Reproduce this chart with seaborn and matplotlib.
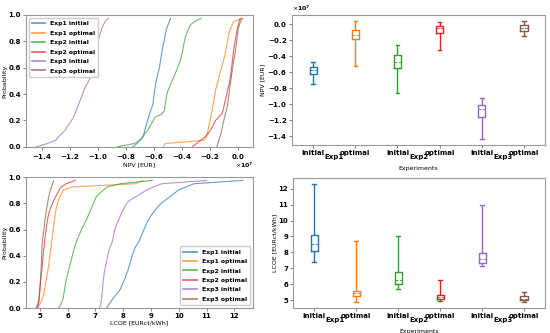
import numpy as np
import pandas as pd
import matplotlib
matplotlib.use("Agg")
import matplotlib.pyplot as plt
from matplotlib.ticker import MultipleLocator, ScalarFormatter
import seaborn as sns

# series names and colours
names = ["Exp1 initial", "Exp1 optimal", "Exp2 initial", "Exp2 optimal", "Exp3 initial", "Exp3 optimal"]
colors = ["#1f77b4", "#ff7f0e", "#2ca02c", "#d62728", "#9467bd", "#8c564b"]
groups = ["Exp1", "Exp2", "Exp3"]
states = ["initial", "optimal"]

# NPV samples (sorted), in 1e7 EUR
npv_exp1_init = [-0.750, -0.720, -0.700, -0.678, -0.670, -0.664, -0.658, -0.651, -0.645, -0.637,
                 -0.630, -0.622, -0.614, -0.606, -0.603, -0.600, -0.597, -0.594, -0.591, -0.587,
                 -0.582, -0.577, -0.571, -0.566, -0.560, -0.556, -0.552, -0.549, -0.545, -0.541,
                 -0.537, -0.532, -0.527, -0.523, -0.518, -0.513, -0.507, -0.498, -0.489, -0.480]
npv_exp1_opt = [-0.530, -0.520, -0.240, -0.225, -0.218, -0.213, -0.208, -0.203, -0.199, -0.194,
                -0.189, -0.184, -0.180, -0.176, -0.172, -0.168, -0.164, -0.160, -0.154, -0.148,
                -0.142, -0.136, -0.130, -0.123, -0.117, -0.110, -0.104, -0.097, -0.091, -0.086,
                -0.082, -0.078, -0.074, -0.070, -0.066, -0.060, -0.050, -0.040, -0.029, 0.030]
npv_exp2_init = [-0.860, -0.740, -0.697, -0.680, -0.663, -0.645, -0.630, -0.617, -0.603, -0.590,
                 -0.540, -0.525, -0.521, -0.518, -0.514, -0.510, -0.506, -0.499, -0.489, -0.480,
                 -0.470, -0.459, -0.449, -0.439, -0.430, -0.421, -0.412, -0.405, -0.400, -0.395,
                 -0.390, -0.386, -0.381, -0.376, -0.369, -0.359, -0.349, -0.339, -0.310, -0.260]
npv_exp2_opt = [-0.325, -0.295, -0.265, -0.235, -0.212, -0.196, -0.182, -0.170, -0.159, -0.137,
                -0.115, -0.106, -0.100, -0.095, -0.090, -0.084, -0.078, -0.073, -0.068, -0.062,
                -0.058, -0.053, -0.050, -0.047, -0.044, -0.041, -0.039, -0.036, -0.033, -0.030,
                -0.027, -0.024, -0.019, -0.015, -0.011, -0.007, -0.003, 0.004, 0.010, 0.018]
npv_exp3_init = [-1.440, -1.360, -1.300, -1.282, -1.258, -1.234, -1.220, -1.203, -1.188, -1.173,
                 -1.164, -1.155, -1.145, -1.136, -1.127, -1.118, -1.109, -1.100, -1.090, -1.077,
                 -1.065, -1.053, -1.049, -1.046, -1.043, -1.040, -1.035, -1.029, -1.023, -1.018,
                 -1.012, -1.006, -1.000, -0.993, -0.985, -0.977, -0.970, -0.960, -0.948, -0.925]
npv_exp3_opt = [-0.150, -0.143, -0.135, -0.127, -0.121, -0.115, -0.110, -0.105, -0.100, -0.094,
                -0.088, -0.082, -0.077, -0.072, -0.069, -0.066, -0.063, -0.060, -0.057, -0.053,
                -0.050, -0.047, -0.044, -0.040, -0.037, -0.033, -0.029, -0.025, -0.021, -0.017,
                -0.014, -0.011, -0.008, -0.005, -0.002, 0.001, 0.005, 0.012, 0.020, 0.035]

# LCOE samples (sorted), EURct/kWh
lcoe_exp1_init = [7.40, 7.48, 7.56, 7.64, 7.74, 7.84, 7.91, 7.96, 8.01, 8.06,
                  8.10, 8.15, 8.19, 8.22, 8.26, 8.29, 8.32, 8.37, 8.41, 8.46,
                  8.55, 8.60, 8.65, 8.70, 8.75, 8.80, 8.85, 8.91, 8.98, 9.07,
                  9.16, 9.25, 9.37, 9.52, 9.68, 9.83, 9.98, 10.25, 10.55, 12.30]
lcoe_exp1_opt = [4.90, 4.99, 5.05, 5.10, 5.14, 5.16, 5.18, 5.20, 5.22, 5.24,
                 5.26, 5.28, 5.30, 5.32, 5.33, 5.35, 5.36, 5.38, 5.39, 5.41,
                 5.42, 5.44, 5.45, 5.47, 5.48, 5.50, 5.51, 5.53, 5.54, 5.56,
                 5.58, 5.61, 5.64, 5.67, 5.72, 5.78, 5.85, 6.15, 8.45, 8.70]
lcoe_exp2_init = [5.68, 5.75, 5.80, 5.84, 5.86, 5.88, 5.90, 5.92, 5.94, 5.96,
                  5.99, 6.02, 6.05, 6.08, 6.11, 6.14, 6.17, 6.20, 6.23, 6.27,
                  6.31, 6.35, 6.40, 6.45, 6.50, 6.56, 6.62, 6.68, 6.73, 6.78,
                  6.83, 6.88, 6.93, 6.98, 7.03, 7.15, 7.28, 7.42, 7.90, 9.05]
lcoe_exp2_opt = [4.92, 4.95, 4.97, 4.98, 4.99, 5.00, 5.01, 5.02, 5.03, 5.04,
                 5.05, 5.07, 5.08, 5.09, 5.10, 5.11, 5.12, 5.13, 5.14, 5.16,
                 5.17, 5.18, 5.20, 5.21, 5.23, 5.24, 5.26, 5.28, 5.30, 5.33,
                 5.36, 5.41, 5.46, 5.51, 5.57, 5.63, 5.69, 5.77, 5.95, 6.28]
lcoe_exp3_init = [7.15, 7.19, 7.21, 7.23, 7.24, 7.25, 7.26, 7.27, 7.28, 7.29,
                  7.31, 7.32, 7.35, 7.37, 7.40, 7.42, 7.45, 7.47, 7.50, 7.55,
                  7.60, 7.63, 7.65, 7.67, 7.70, 7.74, 7.79, 7.84, 7.89, 7.94,
                  8.00, 8.06, 8.12, 8.25, 8.45, 8.64, 8.83, 9.08, 9.40, 11.00]
lcoe_exp3_opt = [4.87, 4.92, 4.95, 4.97, 4.98, 4.99, 5.00, 5.01, 5.02, 5.03,
                 5.03, 5.04, 5.05, 5.05, 5.06, 5.06, 5.07, 5.07, 5.08, 5.08,
                 5.09, 5.10, 5.12, 5.13, 5.15, 5.16, 5.17, 5.19, 5.20, 5.22,
                 5.24, 5.26, 5.28, 5.30, 5.32, 5.35, 5.38, 5.42, 5.46, 5.50]

npv = [npv_exp1_init, npv_exp1_opt, npv_exp2_init, npv_exp2_opt, npv_exp3_init, npv_exp3_opt]
lcoe = [lcoe_exp1_init, lcoe_exp1_opt, lcoe_exp2_init, lcoe_exp2_opt, lcoe_exp3_init, lcoe_exp3_opt]

# long table
rows = []
for name, a, b in zip(names, npv, lcoe):
    n = len(a)
    for i in range(n):
        rows.append({"series": name, "prob": i / n, "npv": a[i] * 1e7, "lcoe": b[i]})
df = pd.DataFrame(rows)

spine_col = "#999999"
tick_fs = 5
lab_fs = 4.5

fig = plt.figure(figsize=(5.5, 3.33), dpi=100)
ax_tl = fig.add_axes([0.047, 0.559, 0.413, 0.396])
ax_tr = fig.add_axes([0.531, 0.565, 0.460, 0.390])
ax_bl = fig.add_axes([0.047, 0.075, 0.413, 0.393])
ax_br = fig.add_axes([0.533, 0.075, 0.458, 0.390])


def style(ax):
    for s in ax.spines.values():
        s.set_color(spine_col)
        s.set_linewidth(0.8)
    ax.tick_params(labelsize=tick_fs, length=2, width=0.5, pad=1.5, color="#555555")
    for t in ax.get_xticklabels() + ax.get_yticklabels():
        t.set_fontweight("bold")


def sci(axis):
    f = ScalarFormatter(useMathText=True)
    f.set_powerlimits((0, 0))
    axis.set_major_formatter(f)
    axis.get_offset_text().set_fontsize(4.5)
    axis.get_offset_text().set_fontweight("bold")


# ECDF panels
for ax, col, xlab, loc in [(ax_tl, "npv", "NPV [EUR]", "upper left"),
                           (ax_bl, "lcoe", "LCOE [EURct/kWh]", "lower right")]:
    for name, c in zip(names, colors):
        d = df[df["series"] == name]
        sns.lineplot(x=d[col].values, y=d["prob"].values, color=c, alpha=0.7, lw=0.8,
                     label=name, estimator=None, sort=False, ax=ax)
    ax.set_ylim(0, 1)
    ax.yaxis.set_major_locator(MultipleLocator(0.2))
    ax.set_xlabel(xlab, fontsize=lab_fs, labelpad=1)
    ax.set_ylabel("Probability", fontsize=lab_fs, labelpad=1)
    leg = ax.legend(loc=loc, prop={"size": 4.4, "weight": "bold"}, labelspacing=0.68,
                    handlelength=2.2, borderpad=0.5, framealpha=1, edgecolor="#cccccc")
    for h in leg.get_lines():
        h.set_linewidth(1.3)
    style(ax)

ax_tl.xaxis.set_major_locator(MultipleLocator(0.2e7))
sci(ax_tl.xaxis)
ax_tl.xaxis.get_offset_text().set_visible(False)
ax_tl.annotate(r"$\times\mathdefault{10^{7}}$", xy=(1, 0), xycoords="axes fraction",
               xytext=(-6, -13), textcoords="offset points", ha="center", va="center",
               fontsize=4.5, fontweight="bold")
ax_bl.xaxis.set_major_locator(MultipleLocator(1))

# box panels
for ax, col, ylab in [(ax_tr, "npv", "NPV [EUR]"), (ax_br, "lcoe", "LCOE [EURct/kWh]")]:
    sns.boxplot(data=df, x="series", y=col, hue="series", order=names, hue_order=names,
                palette=colors, fill=False, whis=(0, 100), width=0.17, linewidth=1.0,
                medianprops={"linestyle": "--", "linewidth": 0.6}, legend=False, ax=ax)
    ax.set_xticks(range(6))
    ax.set_xticklabels(states * 3)
    for k, g in enumerate(groups):
        ax.annotate(g, xy=(2 * k + 0.5, 0), xycoords=("data", "axes fraction"),
                    xytext=(0, -8.6), textcoords="offset points", ha="center", va="center",
                    fontsize=tick_fs, fontweight="bold")
    ax.set_xlabel("Experiments", fontsize=lab_fs, labelpad=7.5)
    ax.set_ylabel(ylab, fontsize=lab_fs, labelpad=1)
    style(ax)

ax_tr.yaxis.set_major_locator(MultipleLocator(0.2e7))
sci(ax_tr.yaxis)
ax_br.yaxis.set_major_locator(MultipleLocator(1))
for ax in (ax_tl, ax_tr):
    for t in ax.get_xticklabels() + ax.get_yticklabels():
        t.set_fontweight("bold")

fig.savefig("out.png", dpi=100)
